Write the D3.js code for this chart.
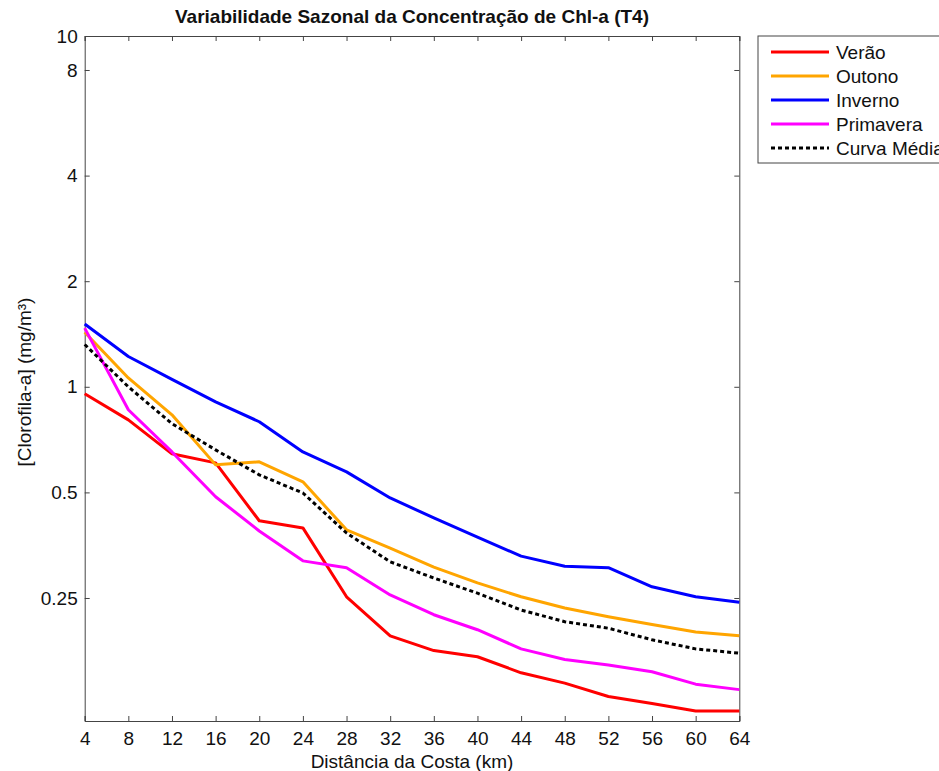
<!DOCTYPE html>
<html lang="pt">
<head>
<meta charset="utf-8">
<title>Variabilidade Sazonal da Concentração de Chl-a (T4)</title>
<script src="https://d3js.org/d3.v7.min.js"></script>
<style>
  body { margin: 0; background: #fff; }
  svg text { font-family: "Liberation Sans", Arial, Helvetica, sans-serif; fill: #111; }
  .axis path, .axis line { stroke: #444; }
</style>
</head>
<body>
<div id="chart"></div>
<script>
var WIDTH = 939;
var HEIGHT = 771;

// distance from coast (km)
var distances = [4, 8, 12, 16, 20, 24, 28, 32, 36, 40, 44, 48, 52, 56, 60, 64];

// chl-a (mg/m3) per season
var verao     = [0.955, 0.805, 0.644, 0.607, 0.415, 0.396, 0.252, 0.195, 0.177, 0.170, 0.153, 0.143, 0.131, 0.125, 0.119, 0.119];
var outono    = [1.43, 1.06, 0.832, 0.599, 0.611, 0.536, 0.391, 0.347, 0.306, 0.276, 0.252, 0.234, 0.221, 0.210, 0.200, 0.195];
var inverno   = [1.51, 1.22, 1.05, 0.906, 0.795, 0.652, 0.572, 0.482, 0.423, 0.373, 0.329, 0.308, 0.305, 0.269, 0.252, 0.243];
var primavera = [1.47, 0.86, 0.652, 0.486, 0.388, 0.319, 0.305, 0.255, 0.224, 0.203, 0.179, 0.167, 0.161, 0.154, 0.142, 0.137];
var media     = [1.32, 1.0, 0.785, 0.661, 0.561, 0.498, 0.383, 0.317, 0.285, 0.258, 0.231, 0.214, 0.205, 0.190, 0.179, 0.174];

var seriesNames  = ["Verão", "Outono", "Inverno", "Primavera", "Curva Média"];
var seriesValues = [verao, outono, inverno, primavera, media];
var seriesColors = ["#ff0000", "#ffa500", "#0000ff", "#ff00ff", "#000000"];

var yTicks = [0.25, 0.5, 1, 2, 4, 8, 10];
var xTicks = distances;

// plot box (don't call these top/left: they clash with window.top)
var pL = 84.7, pR = 739.3, pT = 36, pB = 721;
var FS = "19px";

const svg = d3.select("#chart")
    .append("svg")
    .attr("width", WIDTH)
    .attr("height", HEIGHT);

var x = d3.scaleLinear().domain([4, 64]).range([pL, pR]);
var y = d3.scaleLog().domain([0.1115, 10]).range([pB, pT]);

var fmt = function(d) { return String(d); };

// axes (ticks pointing inward, mirrored on top/right)
svg.append("g").attr("class", "axis")
    .attr("transform", "translate(0," + pB + ")")
    .call(d3.axisBottom(x).tickValues(xTicks).tickSize(-5).tickPadding(11).tickFormat(fmt))
    .call(g => g.selectAll("text").style("font-size", FS));
svg.append("g").attr("class", "axis")
    .attr("transform", "translate(0," + pT + ")")
    .call(d3.axisTop(x).tickValues(xTicks).tickSize(-5).tickFormat(""));
svg.append("g").attr("class", "axis")
    .attr("transform", "translate(" + pL + ",0)")
    .call(d3.axisLeft(y).tickValues(yTicks).tickSize(-5).tickPadding(7).tickFormat(fmt))
    .call(g => g.selectAll("text").style("font-size", FS));
svg.append("g").attr("class", "axis")
    .attr("transform", "translate(" + pR + ",0)")
    .call(d3.axisRight(y).tickValues(yTicks).tickSize(-5).tickFormat(""));
svg.selectAll(".axis path").attr("stroke", "#444");

// lines
var line = d3.line()
    .x((d, i) => x(distances[i]))
    .y(d => y(d));

seriesValues.forEach(function(vals, k) {
    svg.append("path")
        .datum(vals)
        .attr("fill", "none")
        .attr("stroke", seriesColors[k])
        .attr("stroke-width", 3)
        .attr("stroke-linejoin", "round")
        .attr("stroke-dasharray", k == 4 ? "4,3" : null)
        .attr("d", line);
});

// title + labels
svg.append("text")
    .attr("x", (pL + pR) / 2).attr("y", 23)
    .attr("text-anchor", "middle")
    .style("font-size", FS).style("font-weight", "bold")
    .text("Variabilidade Sazonal da Concentração de Chl-a (T4)");

svg.append("text")
    .attr("x", (pL + pR) / 2).attr("y", 768)
    .attr("text-anchor", "middle")
    .style("font-size", FS)
    .text("Distância da Costa (km)");

svg.append("text")
    .attr("transform", "translate(31,382) rotate(-90)")
    .attr("text-anchor", "middle")
    .style("font-size", FS)
    .text("[Clorofila-a] (mg/m³)");

// legend
var lg = svg.append("g").attr("transform", "translate(758,36)");
lg.append("rect")
    .attr("width", 220).attr("height", 127)
    .attr("fill", "#fff").attr("stroke", "#444").attr("stroke-width", 1);
seriesNames.forEach(function(name, k) {
    var ry = 16 + k * 24;
    lg.append("line")
        .attr("x1", 13).attr("x2", 71).attr("y1", ry).attr("y2", ry)
        .attr("stroke", seriesColors[k]).attr("stroke-width", 3)
        .attr("stroke-dasharray", k == 4 ? "4,3" : null);
    lg.append("text")
        .attr("x", 78).attr("y", ry + 7)
        .style("font-size", FS)
        .text(name);
});
</script>
</body>
</html>
